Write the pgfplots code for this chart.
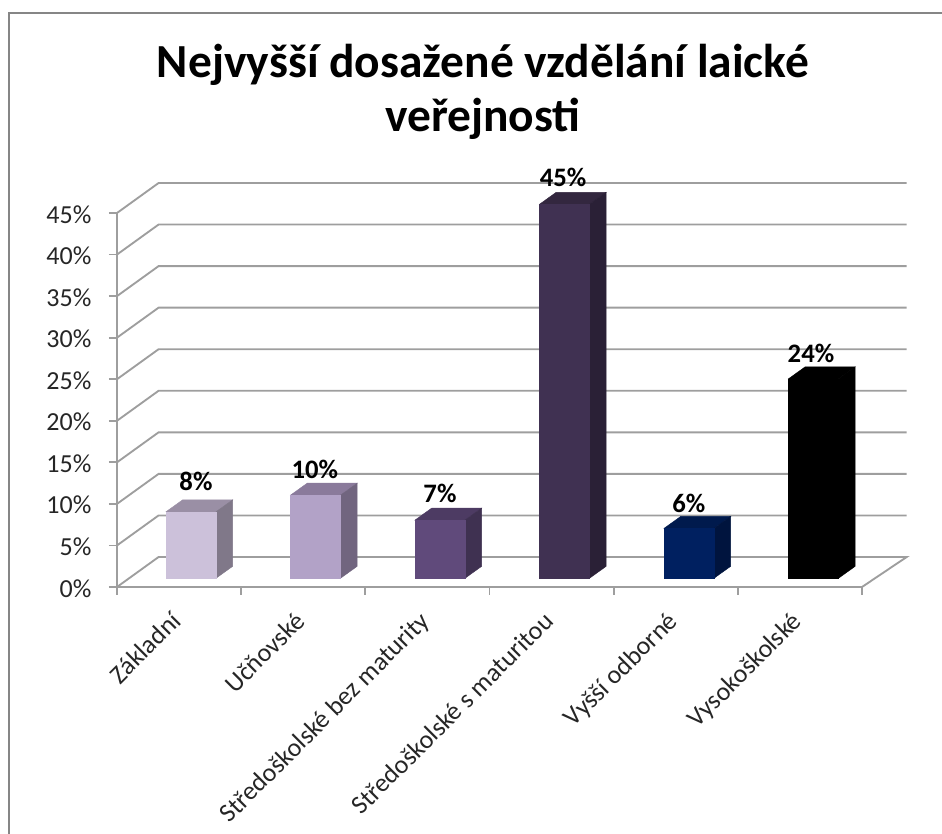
\documentclass[border=0pt]{standalone}
\usepackage{fontspec}
\setmainfont{Carlito}
\usepackage{pgfplots}
\pgfplotsset{compat=1.18}
\definecolor{gridc}{HTML}{9E9E9E}
\definecolor{framec}{HTML}{868686}
\definecolor{aF}{HTML}{CCC1DA}\definecolor{aT}{HTML}{9A8FA5}\definecolor{aS}{HTML}{807889}
\definecolor{bF}{HTML}{B2A2C7}\definecolor{bT}{HTML}{8A7A9B}\definecolor{bS}{HTML}{71657F}
\definecolor{cF}{HTML}{604A7B}\definecolor{cT}{HTML}{4D3B63}\definecolor{cS}{HTML}{3F3151}
\definecolor{dF}{HTML}{403152}\definecolor{dT}{HTML}{33273F}\definecolor{dS}{HTML}{2A2036}
\definecolor{eF}{HTML}{002060}\definecolor{eT}{HTML}{001A4D}\definecolor{eS}{HTML}{00143E}
\begin{document}
\begin{tikzpicture}
\path[use as bounding box] (0,0) rectangle (706.5pt,625.5pt);
\draw[framec,line width=1.5pt] (6.75pt,-5pt) -- (6.75pt,615.75pt) -- (711pt,615.75pt);
\begin{axis}[
  at={(87.75pt,185.25pt)},anchor=south west,
  scale only axis,width=558.75pt,height=280.5pt,
  xmin=0,xmax=6,ymin=0,ymax=45,clip=false,
  axis x line*=bottom,axis y line*=left,
  axis line style={gridc,line width=1.4pt,-},
  tick style={gridc,line width=1.4pt},
  major tick length=6pt,
  tick align=outside,
  xtick={0,1,2,3,4,5,6},xticklabels={},
  ytick={0,5,10,15,20,25,30,35,40,45},
  yticklabels={0\%,5\%,10\%,15\%,20\%,25\%,30\%,35\%,40\%,45\%},
  yticklabel style={font=\fontsize{19.5}{19.5}\selectfont,text=black!85,inner sep=0pt,xshift=-13pt,yshift=-1pt},
  extra x ticks={0.5,1.5,2.5,3.5,4.5,5.5},
  extra x tick labels={Základní,Učňovské,Středoškolské bez maturity,Středoškolské s maturitou,Vyšší odborné,Vysokoškolské},
  extra x tick style={major tick length=0pt,xticklabel style={xshift=-7.2pt,yshift=-17.1pt,rotate=45,anchor=north east,font=\fontsize{19.5}{19.5}\selectfont,text=black!85,inner sep=0pt}},
]
% back wall and floor grid lines
\addplot[gridc,line width=1.4pt] coordinates {(0,0) (0.335,3.61) (6.36,3.61) (6,0)};
\addplot[gridc,line width=1.4pt] coordinates {(0,5) (0.335,8.61) (6.36,8.61)};
\addplot[gridc,line width=1.4pt] coordinates {(0,10) (0.335,13.61) (6.36,13.61)};
\addplot[gridc,line width=1.4pt] coordinates {(0,15) (0.335,18.61) (6.36,18.61)};
\addplot[gridc,line width=1.4pt] coordinates {(0,20) (0.335,23.61) (6.36,23.61)};
\addplot[gridc,line width=1.4pt] coordinates {(0,25) (0.335,28.61) (6.36,28.61)};
\addplot[gridc,line width=1.4pt] coordinates {(0,30) (0.335,33.61) (6.36,33.61)};
\addplot[gridc,line width=1.4pt] coordinates {(0,35) (0.335,38.61) (6.36,38.61)};
\addplot[gridc,line width=1.4pt] coordinates {(0,40) (0.335,43.61) (6.36,43.61)};
\addplot[gridc,line width=1.4pt] coordinates {(0,45) (0.335,48.61) (6.36,48.61)};
% bar 1: 8
\addplot[fill=aT,draw=aT,line width=0.3pt] coordinates {(0.3946,9.05) (0.7973,9.05) (0.9318,10.49) (0.5291,10.49)} -- cycle;
\addplot[fill=aS,draw=aS,line width=0.3pt] coordinates {(0.7973,1.05) (0.9318,2.49) (0.9318,10.49) (0.7973,9.05)} -- cycle;
\addplot[fill=aF,draw=aF,line width=0.3pt] coordinates {(0.3946,1.05) (0.7973,1.05) (0.7973,9.05) (0.3946,9.05)} -- cycle;
% bar 2: 10
\addplot[fill=bT,draw=bT,line width=0.3pt] coordinates {(1.3973,11.05) (1.8,11.05) (1.9345,12.49) (1.5318,12.49)} -- cycle;
\addplot[fill=bS,draw=bS,line width=0.3pt] coordinates {(1.8,1.05) (1.9345,2.49) (1.9345,12.49) (1.8,11.05)} -- cycle;
\addplot[fill=bF,draw=bF,line width=0.3pt] coordinates {(1.3973,1.05) (1.8,1.05) (1.8,11.05) (1.3973,11.05)} -- cycle;
% bar 3: 7
\addplot[fill=cT,draw=cT,line width=0.3pt] coordinates {(2.3999,8.05) (2.8026,8.05) (2.9371,9.49) (2.5344,9.49)} -- cycle;
\addplot[fill=cS,draw=cS,line width=0.3pt] coordinates {(2.8026,1.05) (2.9371,2.49) (2.9371,9.49) (2.8026,8.05)} -- cycle;
\addplot[fill=cF,draw=cF,line width=0.3pt] coordinates {(2.3999,1.05) (2.8026,1.05) (2.8026,8.05) (2.3999,8.05)} -- cycle;
% bar 4: 45
\addplot[fill=dT,draw=dT,line width=0.3pt] coordinates {(3.4026,46.05) (3.8053,46.05) (3.9398,47.49) (3.5371,47.49)} -- cycle;
\addplot[fill=dS,draw=dS,line width=0.3pt] coordinates {(3.8053,1.05) (3.9398,2.49) (3.9398,47.49) (3.8053,46.05)} -- cycle;
\addplot[fill=dF,draw=dF,line width=0.3pt] coordinates {(3.4026,1.05) (3.8053,1.05) (3.8053,46.05) (3.4026,46.05)} -- cycle;
% bar 5: 6
\addplot[fill=eT,draw=eT,line width=0.3pt] coordinates {(4.4052,7.05) (4.8079,7.05) (4.9424,8.49) (4.5397,8.49)} -- cycle;
\addplot[fill=eS,draw=eS,line width=0.3pt] coordinates {(4.8079,1.05) (4.9424,2.49) (4.9424,8.49) (4.8079,7.05)} -- cycle;
\addplot[fill=eF,draw=eF,line width=0.3pt] coordinates {(4.4052,1.05) (4.8079,1.05) (4.8079,7.05) (4.4052,7.05)} -- cycle;
% bar 6: 24
\addplot[fill=black,draw=black,line width=0.3pt] coordinates {(5.4079,25.05) (5.8106,25.05) (5.9451,26.49) (5.5424,26.49)} -- cycle;
\addplot[fill=black,draw=black,line width=0.3pt] coordinates {(5.8106,1.05) (5.9451,2.49) (5.9451,26.49) (5.8106,25.05)} -- cycle;
\addplot[fill=black,draw=black,line width=0.3pt] coordinates {(5.4079,1.05) (5.8106,1.05) (5.8106,25.05) (5.4079,25.05)} -- cycle;
% data labels
\tikzset{dl/.style={font=\bfseries\fontsize{20}{20}\selectfont,inner sep=0pt,text=black}}
\node[dl] at (axis cs:0.636,12.7) {8\%};
\node[dl] at (axis cs:1.594,14.2) {10\%};
\node[dl] at (axis cs:2.601,11.2) {7\%};
\node[dl] at (axis cs:3.592,49.3) {45\%};
\node[dl] at (axis cs:4.606,10) {6\%};
\node[dl] at (axis cs:5.589,28.1) {24\%};
\end{axis}
\node[font=\bfseries\fontsize{35.6}{40.5}\selectfont,align=center,inner sep=0pt,text=black] at (362.25pt,556.5pt) {Nejvyšší dosažené vzdělání laické\\veřejnosti};
\end{tikzpicture}
\end{document}
